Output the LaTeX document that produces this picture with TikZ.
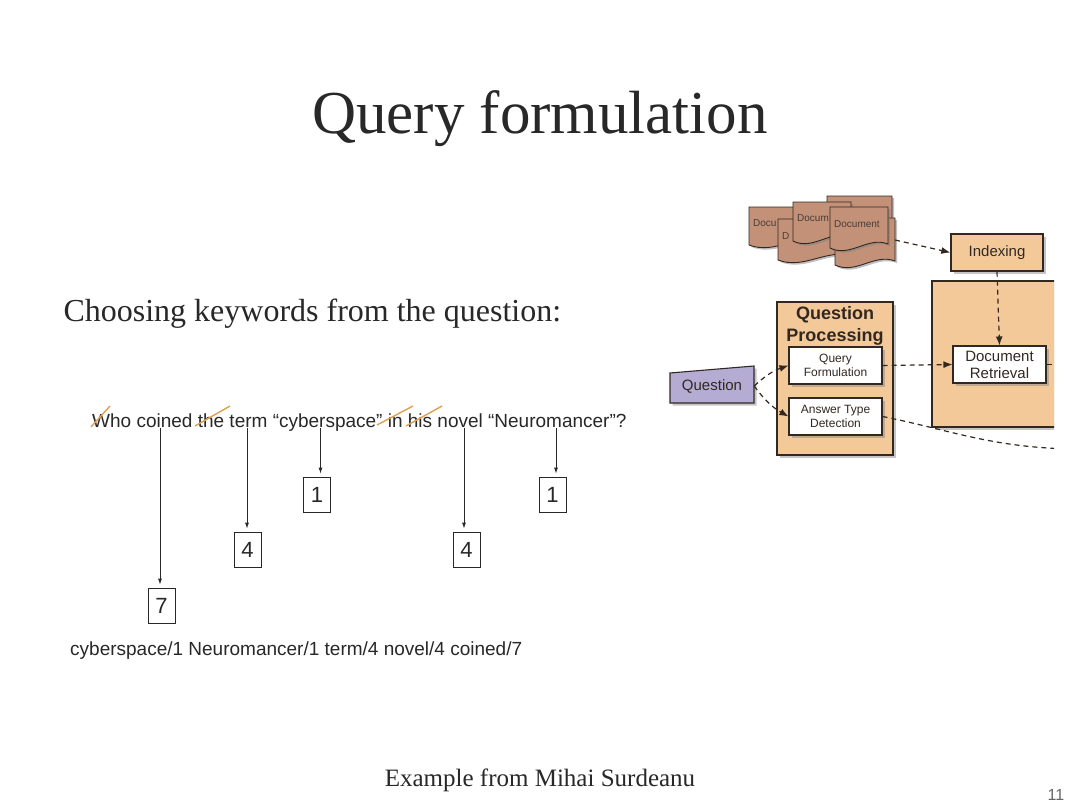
\documentclass[tikz,border=0pt]{standalone}
\usepackage{fontspec}
\setmainfont{Liberation Serif}
\setsansfont{Liberation Sans}
\usetikzlibrary{arrows.meta, positioning, shadows}

\definecolor{tanfill}{RGB}{243,201,154}
\definecolor{boxline}{RGB}{50,40,34}
\definecolor{docfill}{RGB}{194,145,120}
\definecolor{qfill}{RGB}{180,172,210}
\definecolor{strikeorange}{RGB}{224,160,82}
\definecolor{inkgray}{RGB}{40,40,40}

\newcommand{\fsz}[2]{\fontsize{#1}{#2}\selectfont}

% one wavy document page: name, x, y, width, height, text
\newcommand{\docpage}[6]{%
  \filldraw[docfill, draw=boxline, line width=0.9pt, docshadow]
    (#2,#3) -- ({#2+#4},#3) -- ({#2+#4},{#3+#5-6})
    .. controls ({#2+0.65*#4},{#3+#5-14}) and ({#2+0.35*#4},{#3+#5+8}) .. ({#2},{#3+#5-2}) -- cycle;
  \node[doctext, anchor=west] (#1) at ({#2+4},{#3+#5/2-4}) {#6};
}

\begin{document}
\begin{tikzpicture}[x=1pt, y=-1pt,
    numbox/.style={draw=inkgray, line width=0.8pt, minimum width=27pt, minimum height=35pt, inner sep=0pt, font=\sffamily\fsz{22}{26}, text=inkgray},
    boxshadow/.style={drop shadow={shadow xshift=2.5pt, shadow yshift=-2.5pt, opacity=0.45}},
    docshadow/.style={drop shadow={shadow xshift=2pt, shadow yshift=-2pt, opacity=0.5}},
    tanbox/.style={draw=boxline, line width=1.3pt, fill=tanfill, boxshadow},
    whitebox/.style={draw=boxline, line width=1.1pt, fill=white, align=center, inner sep=0pt, minimum width=93pt, minimum height=37pt, boxshadow, text=boxline},
    doctext/.style={font=\sffamily\fsz{10}{12}, text=boxline!90, inner sep=0pt},
    dashline/.style={dash pattern=on 5pt off 4pt, line width=1.2pt, draw=boxline},
    dasharrow/.style={dashline, -{Latex[length=9pt,width=7pt]}},
    keyarrow/.style={draw=inkgray, line width=0.8pt, -{Latex[length=6pt,width=4pt]}, shorten >=3pt},
    strikeline/.style={draw=strikeorange, line width=1.4pt}]

    \fill[white] (0,0) rectangle (1080,809);
    \useasboundingbox (0,0) rectangle (1080,809);

    % headings
    \node[anchor=base, font=\fsz{61}{70}, text=inkgray] (title) at (540,133) {Query formulation};
    \node[anchor=base west, font=\fsz{32}{38}, text=inkgray] (subtitle) at (60,321) {Choosing keywords from the question:};

    % question and keywords
    \node[anchor=base west, inner sep=0pt, font=\sffamily\fsz{19}{23}, text=inkgray] (sentence) at (92,427)
        {Who coined the term “cyberspace” in his novel “Neuromancer”?};
    \coordinate (wcoined) at (160,428);
    \coordinate (wterm) at (247,428);
    \coordinate (wcyber) at (320.5,428);
    \coordinate (wnovel) at (464,428);
    \coordinate (wneuro) at (556,428);

    \draw[strikeline] (91,427) -- (110,406);
    \draw[strikeline] (195,426) -- (230,406);
    \draw[strikeline] (377,425) -- (413,406);
    \draw[strikeline] (406,426) -- (442,406);

    % weights
    \node[numbox] (n1a) at (317,494.5) {1};
    \node[numbox] (n1b) at (552.5,494.5) {1};
    \node[numbox] (n4a) at (247.5,549.5) {4};
    \node[numbox] (n4b) at (466.5,549.5) {4};
    \node[numbox] (n7) at (161.5,605.5) {7};

    \draw[keyarrow] (wcoined) -- (wcoined |- n7.north);
    \draw[keyarrow] (wterm) -- (wterm |- n4a.north);
    \draw[keyarrow] (wcyber) -- (wcyber |- n1a.north);
    \draw[keyarrow] (wnovel) -- (wnovel |- n4b.north);
    \draw[keyarrow] (wneuro) -- (wneuro |- n1b.north);

    \node[anchor=base west, inner sep=0pt, font=\sffamily\fsz{19}{23}, text=inkgray] (keylist) at (70,655)
        {cyberspace/1 Neuromancer/1 term/4 novel/4 coined/7};

    % pipeline sketch
    \begin{scope}
    \clip (0,0) rectangle (1054,809);
    \docpage{docd}{827}{196}{65}{45}{}
    \docpage{doca}{749}{207}{75}{40}{Docu}
    \docpage{docb}{778}{219}{75}{43}{D}
    \docpage{docc}{793}{202}{58}{41}{Docum}
    \docpage{docf}{835}{218}{60}{49}{}
    \docpage{doce}{830}{207}{58}{43}{Document}
    \coordinate (docout) at (895,240);

    \fill[tanfill, boxshadow] (932,281) rectangle (1070,427);
    \draw[boxline, line width=1.3pt] (1070,281) -- (932,281) -- (932,427) -- (1070,427);

    \node[tanbox, minimum width=92pt, minimum height=37pt, font=\sffamily\fsz{15}{18}, text=boxline] (indexing) at (997,252.5) {Indexing};
    \node[tanbox, minimum width=116pt, minimum height=153pt] (qproc) at (835,378.5) {};
    \node[font=\sffamily\bfseries\fsz{18}{22}, align=center, text=boxline] (qtitle) at (835,326) {Question\\Processing};
    \node[whitebox, font=\sffamily\fsz{12}{14}] (qform) at (835.5,365.5) {Query\\Formulation};
    \node[whitebox, font=\sffamily\fsz{12}{14}] (atype) at (835.5,416.5) {Answer Type\\Detection};
    \node[whitebox, font=\sffamily\fsz{15}{17}] (docretr) at (999.5,364.5) {Document\\Retrieval};

    \filldraw[qfill, draw=boxline, line width=1.1pt, boxshadow] (670,373) -- (754,366) -- (754,403) -- (670,403) -- cycle;
    \node[minimum width=84pt, font=\sffamily\fsz{15}{18}, text=boxline] (question) at (712,386) {Question};

    \coordinate (retrout) at (1070,364.5);
    \coordinate (ansout) at (1070,449);

    \draw[dasharrow] (docout) -- (indexing.west);
    \draw[dasharrow] (indexing.south) -- (docretr.north);
    \draw[dasharrow] (qform.east) -- (docretr.west);
    \draw[dasharrow] (question.east) to[bend left=12] (qform.west);
    \draw[dasharrow] (question.east) to[bend right=12] (atype.west);
    \draw[dashline] (docretr.east) -- (retrout);
    \draw[dashline] (atype.east) .. controls (950,430) and (990,447) .. (ansout);
    \end{scope}

    % footer
    \node[anchor=base, font=\fsz{25}{30}, text=inkgray] (source) at (540,786) {Example from Mihai Surdeanu};
    \node[anchor=base, font=\sffamily\fsz{16}{18}, text=black!60] (pagenum) at (1056,800) {11};
\end{tikzpicture}
\end{document}
